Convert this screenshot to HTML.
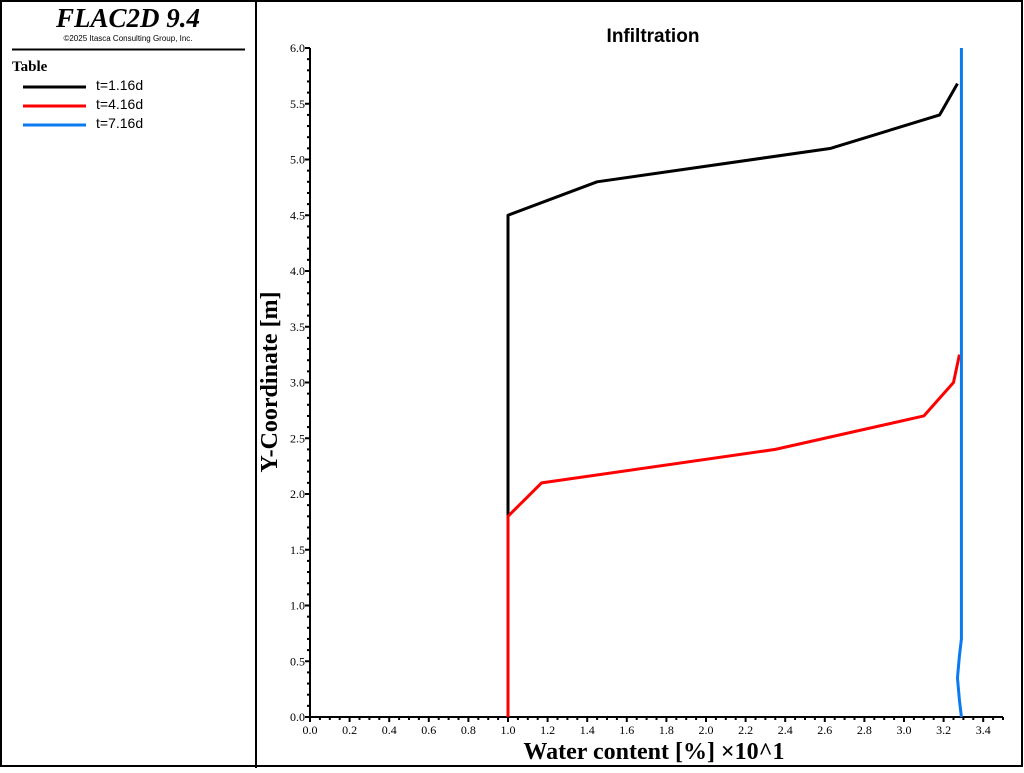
<!DOCTYPE html>
<html><head><meta charset="utf-8"><style>
body{margin:0;background:#fff;width:1024px;height:768px;overflow:hidden;font-family:"Liberation Sans",sans-serif}
</style></head><body>
<svg width="1024" height="768">
<rect x="1" y="1" width="1021" height="765" fill="#fff" stroke="#000" stroke-width="2"/>
<line x1="256" y1="0" x2="256" y2="768" stroke="#000" stroke-width="2"/>
<text x="128" y="27" text-anchor="middle" font-family="Liberation Serif" font-style="italic" font-weight="bold" font-size="27">FLAC2D 9.4</text>
<text x="128" y="41" text-anchor="middle" font-size="8">©2025 Itasca Consulting Group, Inc.</text>
<line x1="12" y1="49.5" x2="245" y2="49.5" stroke="#000" stroke-width="2"/>
<text x="12" y="71" font-family="Liberation Serif" font-weight="bold" font-size="15">Table</text>
<g font-size="14">
<g><line x1="23" y1="87" x2="86" y2="87" stroke="#000" stroke-width="3"/><text x="96" y="90">t=1.16d</text></g>
<g><line x1="23" y1="106" x2="86" y2="106" stroke="#f00" stroke-width="3"/><text x="96" y="109">t=4.16d</text></g>
<g><line x1="23" y1="125" x2="86" y2="125" stroke="#0a7af0" stroke-width="3"/><text x="96" y="128">t=7.16d</text></g>
</g>
<text x="653" y="42" text-anchor="middle" font-weight="bold" font-size="19">Infiltration</text>
<g id="axes"></g>
<g id="series"></g>
<text x="654" y="759" text-anchor="middle" font-family="Liberation Serif" font-weight="bold" font-size="24">Water content [%] ×10^1</text>
<text transform="translate(277,382) rotate(-90)" text-anchor="middle" font-family="Liberation Serif" font-weight="bold" font-size="24">Y-Coordinate [m]</text>
</svg>
<script>
const xTicks=[0,0.2,0.4,0.6,0.8,1.0,1.2,1.4,1.6,1.8,2.0,2.2,2.4,2.6,2.8,3.0,3.2,3.4];
const yTicks=[0,0.5,1,1.5,2,2.5,3,3.5,4,4.5,5,5.5,6];
const seriesNames=['t=1.16d','t=4.16d','t=7.16d'];
const blackX=[1.0,1.0,1.45,2.63,3.18,3.27];
const blackY=[0,4.5,4.8,5.1,5.4,5.68];
const redX=[1.0,1.0,1.17,2.35,3.1,3.25,3.28];
const redY=[0,1.8,2.1,2.4,2.7,3.0,3.25];
const blueX=[3.29,3.28,3.27,3.28,3.29,3.29];
const blueY=[0,0.15,0.35,0.55,0.7,6.0];
const X0=310,XS=198,Y0=717,YS=111.5;
const sx=v=>X0+v*XS, sy=v=>Y0-v*YS;
const NS='http://www.w3.org/2000/svg';
const ax=document.getElementById('axes'), se=document.getElementById('series');
function mk(tag,attrs,parent){const e=document.createElementNS(NS,tag);for(const k in attrs)e.setAttribute(k,attrs[k]);parent.appendChild(e);return e;}
let l=mk('line',{x1:X0,y1:Y0,x2:sx(3.5),y2:Y0,stroke:'#000','stroke-width':2},ax);


l=mk('line',{x1:X0,y1:Y0,x2:X0,y2:sy(6),stroke:'#000','stroke-width':2},ax);


for(let i=0;i<=70;i++){const v=i*0.05;const big=i%4==0;mk('line',{x1:sx(v),y1:Y0,x2:sx(v),y2:Y0+(big?5:3),stroke:'#000','stroke-width':2},ax);}
for(let i=0;i<=60;i++){const v=i*0.1;mk('line',{x1:X0,y1:sy(v),x2:X0-(i%5==0?5:3),y2:sy(v),stroke:'#000','stroke-width':2},ax);}
xTicks.forEach(v=>{const t=mk('text',{x:sx(v),y:Y0+17,'text-anchor':'middle','font-family':'Liberation Serif','font-size':12},ax);t.textContent=v.toFixed(1);

});
yTicks.forEach(v=>{const t=mk('text',{x:X0-5,y:sy(v)+4,'text-anchor':'end','font-family':'Liberation Serif','font-size':12},ax);t.textContent=v.toFixed(1);

});
function line(xs,ys,c,name){const p=mk('polyline',{points:xs.map((x,i)=>sx(x)+','+sy(ys[i])).join(' '),fill:'none',stroke:c,'stroke-width':3,'stroke-linejoin':'round'},se);

}
line(blackX,blackY,'#000','series-t1');
line(redX,redY,'#f00','series-t4');
line(blueX,blueY,'#0a7af0','series-t7');
</script>
</body></html>
